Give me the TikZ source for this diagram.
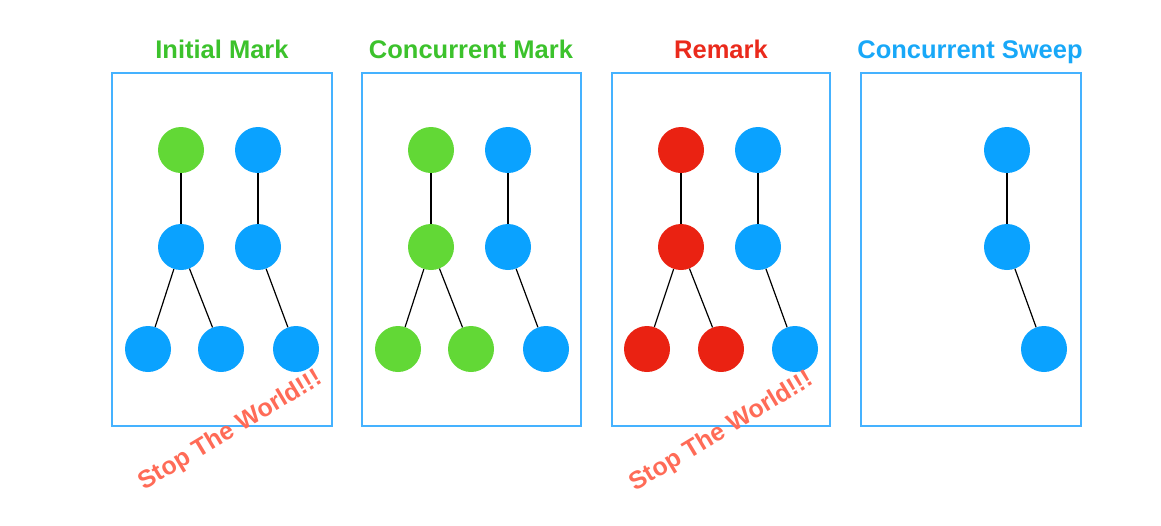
\documentclass[tikz,border=0pt]{standalone}
\usepackage{fontspec}
\setmainfont{Liberation Sans}
\begin{document}
\begin{tikzpicture}[x=1pt,y=-1pt,
  gnode/.style={circle,fill=cgreen,minimum size=46pt,inner sep=0pt},
  bnode/.style={circle,fill=cblue,minimum size=46pt,inner sep=0pt},
  rnode/.style={circle,fill=cred,minimum size=46pt,inner sep=0pt},
  panel/.style={draw=cbox,line width=2pt},
  ttl/.style={font=\fontsize{25.5}{30}\selectfont\bfseries,anchor=base},
  stw/.style={font=\fontsize{25}{30}\selectfont\bfseries,text=cstop,rotate=31,inner sep=0pt},
  edge/.style={draw=black,line width=1.2pt}]
\definecolor{cgreen}{HTML}{62D836}
\definecolor{cblue}{HTML}{0AA2FF}
\definecolor{cred}{HTML}{EA2212}
\definecolor{cbox}{HTML}{45B2FF}
\definecolor{tgreen}{HTML}{3CC22C}
\definecolor{tred}{HTML}{EA2A1C}
\definecolor{tblue}{HTML}{18A8F8}
\definecolor{cstop}{HTML}{FF6B57}
\useasboundingbox (0,0) rectangle (1161,525);
% panels
\node[panel,minimum width=220pt,minimum height=353pt,inner sep=0pt] (p1) at (222,249.5) {};
\node[panel,minimum width=219pt,minimum height=353pt,inner sep=0pt] (p2) at (471.5,249.5) {};
\node[panel,minimum width=218pt,minimum height=353pt,inner sep=0pt] (p3) at (721,249.5) {};
\node[panel,minimum width=220pt,minimum height=353pt,inner sep=0pt] (p4) at (971,249.5) {};
% titles
\node[ttl,text=tgreen] (t1) at (222,58) {Initial Mark};
\node[ttl,text=tgreen] (t2) at (471,58) {Concurrent Mark};
\node[ttl,text=tred] (t3) at (721,58) {Remark};
\node[ttl,text=tblue] (t4) at (970,58) {Concurrent Sweep};
% panel 1
\node[gnode] (a1) at (181,150) {};
\node[bnode] (a2) at (258,150) {};
\node[bnode] (a3) at (181,247) {};
\node[bnode] (a4) at (258,247) {};
\node[bnode] (a5) at (148,349) {};
\node[bnode] (a6) at (221,349) {};
\node[bnode] (a7) at (296,349) {};
% panel 2
\node[gnode] (b1) at (431,150) {};
\node[bnode] (b2) at (508,150) {};
\node[gnode] (b3) at (431,247) {};
\node[bnode] (b4) at (508,247) {};
\node[gnode] (b5) at (398,349) {};
\node[gnode] (b6) at (471,349) {};
\node[bnode] (b7) at (546,349) {};
% panel 3
\node[rnode] (c1) at (681,150) {};
\node[bnode] (c2) at (758,150) {};
\node[rnode] (c3) at (681,247) {};
\node[bnode] (c4) at (758,247) {};
\node[rnode] (c5) at (647,349) {};
\node[rnode] (c6) at (721,349) {};
\node[bnode] (c7) at (795,349) {};
% panel 4
\node[bnode] (d2) at (1007,150) {};
\node[bnode] (d4) at (1007,247) {};
\node[bnode] (d7) at (1044,349) {};
% edges
\foreach \p in {a,b,c}{
  \draw[edge] (\p1) -- (\p3);
  \draw[edge] (\p2) -- (\p4);
  \draw[edge] (\p3) -- (\p5);
  \draw[edge] (\p3) -- (\p6);
  \draw[edge] (\p4) -- (\p7);
}
\draw[edge] (d2) -- (d4);
\draw[edge] (d4) -- (d7);
% stop the world
\node[stw] (s1) at (231,431) {Stop The World!!!};
\node[stw] (s2) at (722,432) {Stop The World!!!};
\end{tikzpicture}
\end{document}
